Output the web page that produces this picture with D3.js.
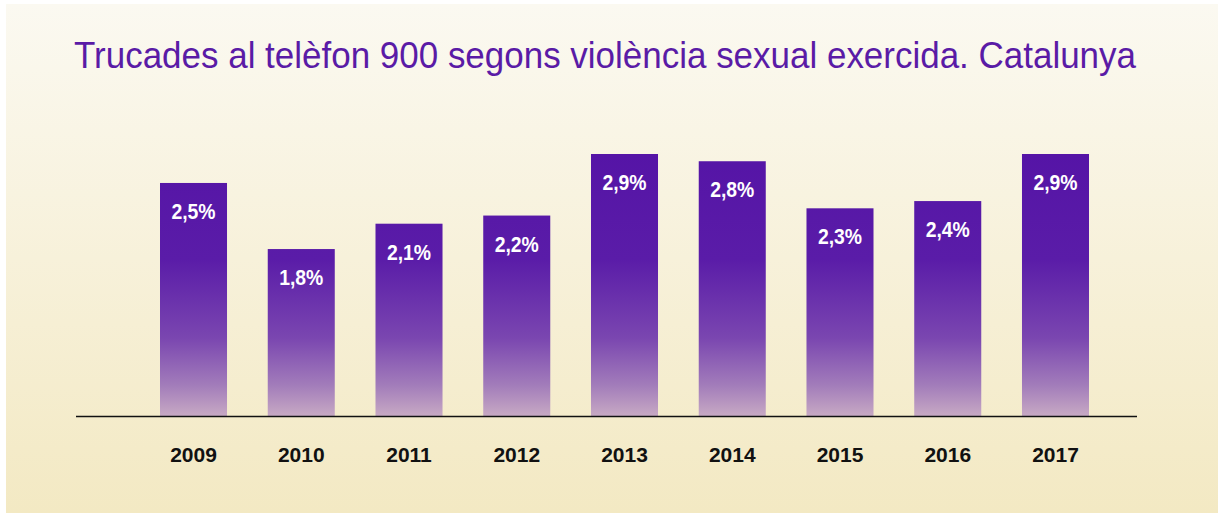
<!DOCTYPE html>
<html>
<head>
<meta charset="utf-8">
<script src="https://cdn.jsdelivr.net/npm/d3@7"></script>
<style>
  body { margin: 0; background: #ffffff; }
  svg { display: block; }
</style>
</head>
<body>
<svg id="chart"></svg>
<script>
// Chart data
const years = ["2009", "2010", "2011", "2012", "2013", "2014", "2015", "2016", "2017"];
// bar heights (in %)
const values = [2.58, 1.85, 2.13, 2.22, 2.90, 2.82, 2.30, 2.38, 2.90];
// printed labels
const labels = ["2,5%", "1,8%", "2,1%", "2,2%", "2,9%", "2,8%", "2,3%", "2,4%", "2,9%"];
const title = "Trucades al telèfon 900 segons violència sexual exercida. Catalunya";

const width = 1224, height = 513;
const baseY = 416.5;

const svg = d3.select("#chart")
    .attr("width", width)
    .attr("height", height);

const defs = svg.append("defs");

// Background gradient (cream to pale yellow)
const bg = defs.append("linearGradient")
    .attr("id", "bgGrad")
    .attr("x1", 0).attr("y1", 0).attr("x2", 0).attr("y2", 1);
bg.append("stop").attr("offset", "0%").attr("stop-color", "#fbf9f1");
bg.append("stop").attr("offset", "100%").attr("stop-color", "#f3e9c3");

// Bar gradient, shared over the plot height
const barGrad = defs.append("linearGradient")
    .attr("id", "barGrad")
    .attr("gradientUnits", "userSpaceOnUse")
    .attr("x1", 0).attr("y1", 154).attr("x2", 0).attr("y2", baseY);
barGrad.append("stop").attr("offset", "0%").attr("stop-color", "#5514a6");
barGrad.append("stop").attr("offset", "40%").attr("stop-color", "#5a1ca8");
barGrad.append("stop").attr("offset", "70%").attr("stop-color", "#7a46b0");
barGrad.append("stop").attr("offset", "88%").attr("stop-color", "#a27cba");
barGrad.append("stop").attr("offset", "100%").attr("stop-color", "#c8aac4");

svg.append("rect")
    .attr("x", 6).attr("y", 4)
    .attr("width", 1212).attr("height", 509)
    .attr("fill", "url(#bgGrad)");

// Title, fitted to the measured width
svg.append("text")
    .attr("x", 74)
    .attr("y", 68)
    .attr("textLength", 1062)
    .attr("lengthAdjust", "spacingAndGlyphs")
    .style("font-family", "'Liberation Sans Narrow', 'Liberation Sans', Arial, sans-serif")
    .style("font-size", "37px")
    .style("fill", "#5a1ba6")
    .text(title);

// Scales
const x = d3.scaleBand()
    .domain(years)
    .range([160, 1089])
    .paddingInner(0.378)
    .paddingOuter(0);

const y = d3.scaleLinear()
    .domain([0, 2.9])
    .range([baseY, 154]);

const data = years.map((yr, i) => ({ year: yr, value: values[i], label: labels[i] }));

// Bars
svg.append("g")
    .selectAll("rect")
    .data(data)
    .join("rect")
    .attr("x", d => x(d.year))
    .attr("y", d => y(d.value))
    .attr("width", x.bandwidth())
    .attr("height", d => baseY - y(d.value))
    .attr("fill", "url(#barGrad)");

// Value labels inside bars, slightly condensed
svg.append("g")
    .selectAll("text")
    .data(data)
    .join("text")
    .attr("transform", d => `translate(${x(d.year) + x.bandwidth() / 2}, ${y(d.value) + 36}) scale(0.88, 1)`)
    .attr("text-anchor", "middle")
    .style("font-family", "'Liberation Sans', Arial, sans-serif")
    .style("font-weight", "bold")
    .style("font-size", "22px")
    .style("fill", "#ffffff")
    .text(d => d.label);

// Baseline
svg.append("line")
    .attr("x1", 76).attr("x2", 1137)
    .attr("y1", baseY).attr("y2", baseY)
    .attr("stroke", "#111")
    .attr("stroke-width", 1.5);

// Year labels
const axis = d3.axisBottom(x).tickSize(0).tickPadding(0);
const gx = svg.append("g")
    .attr("transform", `translate(0, ${462})`)
    .call(axis);
gx.select(".domain").remove();
gx.selectAll("text")
    .attr("dy", 0)
    .style("font-family", "'Liberation Sans', Arial, sans-serif")
    .style("font-weight", "bold")
    .style("font-size", "21px")
    .style("fill", "#111");
</script>
</body>
</html>
